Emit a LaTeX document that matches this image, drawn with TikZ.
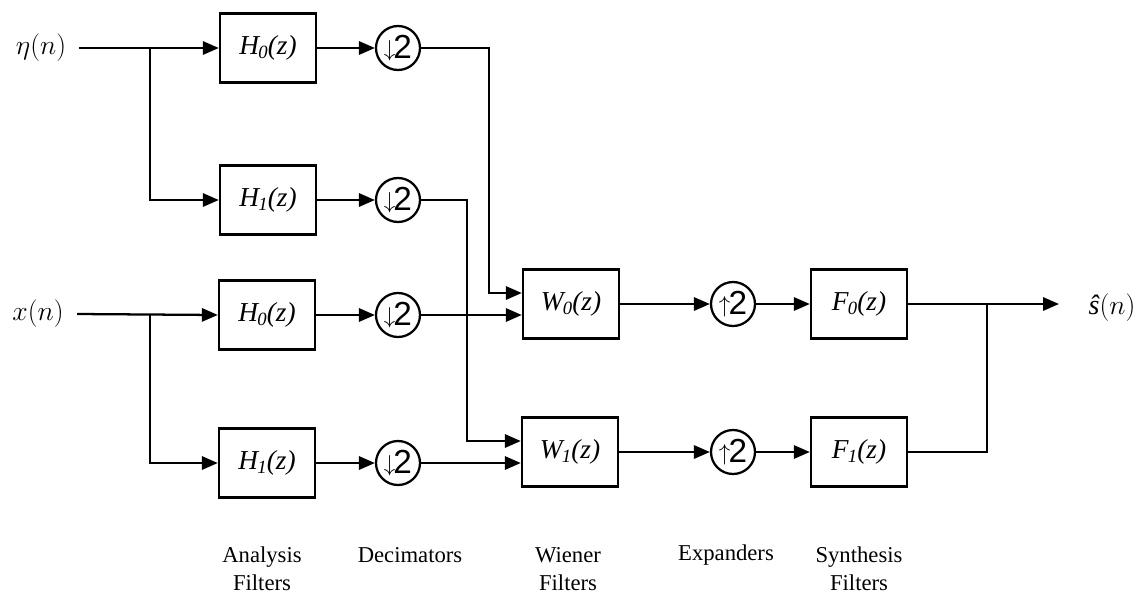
\documentclass[tikz,border=0pt]{standalone}
\usepackage{fontspec}
\setmainfont{Liberation Serif}
\newfontfamily\circfont{Liberation Sans}
\usetikzlibrary{arrows.meta}
\newcommand\dntwo{\raisebox{0.19em}{\fontsize{19}{19}\selectfont$\downarrow$}\kern-1.5pt{\circfont\fontsize{25}{25}\selectfont 2}}
\newcommand\uptwo{\raisebox{0.19em}{\fontsize{19}{19}\selectfont$\uparrow$}\kern-1.5pt{\circfont\fontsize{25}{25}\selectfont 2}}
\newcommand\tf[2]{{\itshape #1\kern-0.5pt\raisebox{-0.35ex}{\fontsize{14}{14}\selectfont #2}(z)}}
\begin{document}
\begin{tikzpicture}[x=0.75pt,y=-0.75pt,
  box/.style={draw, line width=1.8pt, minimum width=72pt, minimum height=52pt, inner sep=0pt, font=\fontsize{20.5}{24}\selectfont},
  circ/.style={draw, circle, line width=1.7pt, minimum size=33pt, inner sep=0pt},
  wire/.style={line width=1.7pt},
  arr/.style={wire, -{Triangle[length=12pt,width=10pt]}},
  sig/.style={inner sep=0pt, font=\fontsize{21}{25}\selectfont},
  captext/.style={inner sep=0pt, align=center, font=\fontsize{17}{21}\selectfont}]
\useasboundingbox (0,0) rectangle (1141,597);
% signal labels
\node[sig] (eta) at (41,48) {$\eta(n)$};
\node[sig] (xn) at (38,314) {$x(n)$};
\node[sig] (sh) at (1112,308) {{\itshape ŝ}$(n)$};
% analysis filters
\node[box] (h00) at (268,48) {\tf{H}{0}};
\node[box] (h01) at (268,200) {\tf{H}{1}};
\node[box] (h10) at (267,315) {\tf{H}{0}};
\node[box] (h11) at (267,463) {\tf{H}{1}};
% decimators
\node[circ] (d0) at (398,48) {\dntwo};
\node[circ] (d1) at (398,200) {\dntwo};
\node[circ] (d2) at (398,315) {\dntwo};
\node[circ] (d3) at (398,463) {\dntwo};
% wiener filters
\node[box] (w0) at (571,304) {\tf{W}{0}};
\node[box] (w1) at (570,452) {\tf{W}{1}};
% expanders
\node[circ] (u0) at (733,304) {\uptwo};
\node[circ] (u1) at (733,452) {\uptwo};
% synthesis filters
\node[box] (f0) at (859,304) {\tf{F}{0}};
\node[box] (f1) at (859,452) {\tf{F}{1}};
% coordinates
\coordinate (b0) at (150,48);
\coordinate (b1) at (150,314);
\coordinate (k0) at (489,293);
\coordinate (k1) at (467,441);
\coordinate (j) at (987,304);
\coordinate (out) at (1059,304);
% connectors
\draw[arr] ([xshift=9.5pt]eta.east) -- (h00.west);
\draw[arr] (b0) |- (h01.west);
\draw[arr] ([xshift=10pt]xn.east) -- (h10.west);
\draw[arr] (b1) |- (h11.west);
\draw[arr] (h00.east) -- (d0.west);
\draw[arr] (h01.east) -- (d1.west);
\draw[arr] (h10.east) -- (d2.west);
\draw[arr] (h11.east) -- (d3.west);
\draw[arr] (d0.east) -| (k0) -- (w0.west |- k0);
\draw[arr] (d1.east) -| (k1) -- (w1.west |- k1);
\draw[arr] (d2.east) -- (w0.west |- d2.east);
\draw[arr] (d3.east) -- (w1.west |- d3.east);
\draw[arr] (w0.east) -- (u0.west);
\draw[arr] (w1.east) -- (u1.west);
\draw[arr] (u0.east) -- (f0.west);
\draw[arr] (u1.east) -- (f1.west);
\draw[arr] (f0.east) -- (out);
\draw[wire] (f1.east) -| (j);
% captions
\node[captext] (ca) at (262,569) {Analysis\\Filters};
\node[captext] (cd) at (410,555) {Decimators};
\node[captext] (cw) at (568,569) {Wiener\\Filters};
\node[captext] (ce) at (726,555) {Expanders};
\node[captext] (cs) at (859,569) {Synthesis\\Filters};
\end{tikzpicture}
\end{document}
